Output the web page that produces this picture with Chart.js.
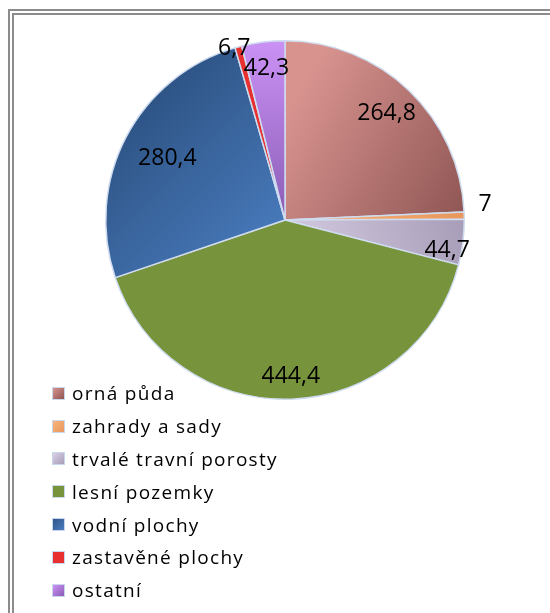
<!DOCTYPE html>
<html>
<head>
<meta charset="utf-8">
<script src="https://cdn.jsdelivr.net/npm/chart.js@4.4.1/dist/chart.umd.min.js"></script>
<style>
  html, body { margin: 0; padding: 0; background: #fff; }
  body { width: 550px; height: 613px; position: relative; overflow: hidden; font-family: "Open Sans", sans-serif; }
  #frame {
    position: absolute; left: 8px; top: 9px; right: 0; bottom: 0;
    border-left: 6px double #8c8c8c; border-top: 6px double #8c8c8c;
  }
  #c { position: absolute; left: 0; top: 0; }
  #legend { position: absolute; left: 52px; top: 377px; }
  .item { height: 32.8px; display: flex; align-items: center; font-size: 19px; letter-spacing: 1.3px; color: #000; }
  .box { width: 11px; height: 11px; border: 1px solid #c8d7ec; margin-right: 7px; }
</style>
</head>
<body>
<div id="frame"></div>
<canvas id="c" width="550" height="613"></canvas>
<div id="legend"></div>
<script>
// land use (ha)
const categories = ["orná půda", "zahrady a sady", "trvalé travní porosty", "lesní pozemky", "vodní plochy", "zastavěné plochy", "ostatní"];
const values = [264.8, 7, 44.7, 444.4, 280.4, 6.7, 42.3];

// colours: [light, dark] pairs for the shaded slices
const shades = [
  ["#d8938f", "#8e5553"],
  ["#f8b47c", "#e9975c"],
  ["#d9cfe4", "#a79db8"],
  ["#77933c", "#77933c"],
  ["#2f5587", "#4a7dc0"],
  ["#e8302f", "#e8302f"],
  ["#cb92f6", "#8a5cb5"]
];
// gradient direction per slice, as fractions of the pie box (x0,y0,x1,y1)
const shadeDir = [
  [0.5, 0.2, 1, 0.5],
  [0.5, 0.5, 1, 0.5],
  [0.5, 0.7, 1, 0.5],
  [0, 0, 1, 1],
  [0.1, 0.2, 0.5, 0.6],
  [0, 0, 1, 1],
  [0.5, 0, 0.5, 0.5]
];
// label placement: radius factor and angle nudge (deg)
const labelRadius = [0.82, 1.12, 0.92, 0.875, 0.74, 1.0, 0.85];
const labelNudge = [0, -3, 3.5, 0, 0, -1.4, 0];

function fmt(v) {
  return String(v).replace(".", ",");
}

function sliceColor(ctx) {
  const i = ctx.dataIndex;
  const area = ctx.chart.chartArea;
  if (!area) return shades[i][0];
  const w = area.right - area.left, h = area.bottom - area.top;
  const d = shadeDir[i];
  const g = ctx.chart.ctx.createLinearGradient(
    area.left + d[0] * w, area.top + d[1] * h,
    area.left + d[2] * w, area.top + d[3] * h);
  g.addColorStop(0, shades[i][0]);
  g.addColorStop(1, shades[i][1]);
  return g;
}

const sliceLabels = {
  id: "sliceLabels",
  afterDatasetsDraw(chart) {
    const ctx = chart.ctx;
    const meta = chart.getDatasetMeta(0);
    ctx.save();
    ctx.font = "23px 'Open Sans'";
    ctx.fillStyle = "#000";
    ctx.textAlign = "center";
    ctx.textBaseline = "middle";
    meta.data.forEach((arc, i) => {
      const p = arc.getProps(["x", "y", "startAngle", "endAngle", "outerRadius"], true);
      const a = (p.startAngle + p.endAngle) / 2 + labelNudge[i] * Math.PI / 180;
      const r = p.outerRadius * labelRadius[i];
      ctx.fillText(fmt(values[i]), p.x + r * Math.cos(a), p.y + r * Math.sin(a));
    });
    ctx.restore();
  }
};

const chart = new Chart(document.getElementById("c"), {
  type: "pie",
  data: {
    labels: categories,
    datasets: [{
      data: values,
      backgroundColor: sliceColor,
      borderColor: "#cfdcef",
      borderWidth: 1.5
    }]
  },
  options: {
    responsive: false,
    animation: false,
    layout: { padding: { top: 40, bottom: 213, left: 105, right: 85 } },
    plugins: {
      legend: { display: false },
      tooltip: { enabled: false }
    }
  },
  plugins: [sliceLabels]
});

// legend
const legend = document.getElementById("legend");
categories.forEach((name, i) => {
  const row = document.createElement("div");
  row.className = "item";
  row.innerHTML = `<span class="box" style="background:${shades[i][0] === shades[i][1] ? shades[i][0] : "linear-gradient(135deg," + shades[i][0] + "," + shades[i][1] + ")"}"></span>${name}`;
  legend.appendChild(row);
});
</script>
</body>
</html>
